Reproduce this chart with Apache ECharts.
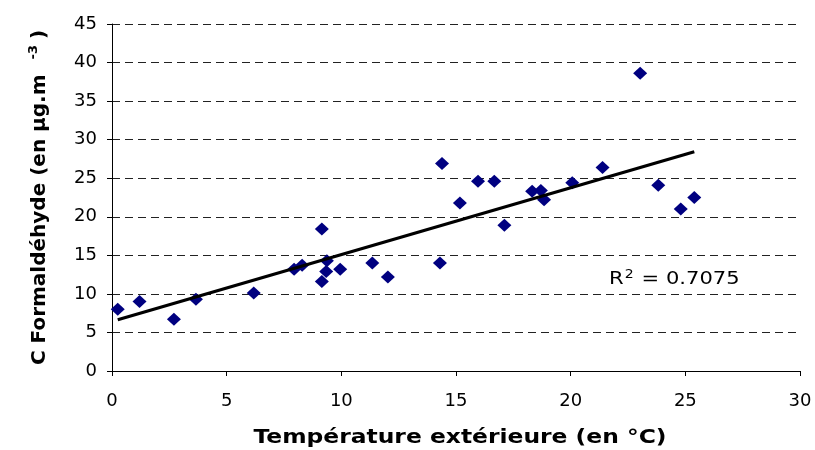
<!DOCTYPE html>
<html>
<head>
<meta charset="utf-8">
<script src="https://cdn.jsdelivr.net/npm/echarts@6/dist/echarts.min.js"></script>
<style>html,body{margin:0;padding:0;background:#fff}#c{width:815px;height:450px}</style>
</head>
<body>
<div id="c"></div>
<script>
var temperature = [0.25, 1.2, 2.7, 3.66, 6.18, 7.94, 8.29, 9.15, 9.37, 9.34, 9.15, 9.95, 11.35, 12.03, 14.3, 14.39, 15.17, 15.96, 16.67, 17.11, 18.32, 18.7, 18.84, 20.07, 21.39, 23.03, 23.82, 24.8, 25.39];
var formaldehyde = [8.0, 9.0, 6.7, 9.3, 10.1, 13.2, 13.7, 18.4, 14.3, 12.9, 11.6, 13.2, 14.0, 12.2, 14.0, 26.9, 21.8, 24.6, 24.6, 18.9, 23.3, 23.4, 22.2, 24.4, 26.4, 38.6, 24.1, 21.0, 22.5];
var xTicks = [0, 5, 10, 15, 20, 25, 30];
var yTicks = [0, 5, 10, 15, 20, 25, 30, 35, 40, 45];
var xTitle = 'Température extérieure (en °C)';
var r2Text = '0.7075';

var points = temperature.map(function (t, i) { return [t, formaldehyde[i]]; });

// least-squares trend line
var n = points.length, sx = 0, sy = 0, sxx = 0, sxy = 0;
points.forEach(function (p) { sx += p[0]; sy += p[1]; sxx += p[0] * p[0]; sxy += p[0] * p[1]; });
var slope = (n * sxy - sx * sy) / (n * sxx - sx * sx);
var intercept = (sy - slope * sx) / n;
var xMin = Math.min.apply(null, temperature), xMax = Math.max.apply(null, temperature);
var trend = [[xMin, intercept + slope * xMin], [xMax, intercept + slope * xMax]];

var font = 'DejaVu Sans';
var chart = echarts.init(document.getElementById('c'), null, { renderer: 'canvas' });
chart.setOption({
  animation: false,
  backgroundColor: '#fff',
  grid: { left: 112, right: 15, top: 24, bottom: 79, containLabel: false },
  xAxis: {
    type: 'value', min: xTicks[0], max: xTicks[xTicks.length - 1], interval: 5,
    axisLine: { lineStyle: { color: '#000', width: 1 } },
    axisTick: { show: true, inside: false, length: 5, lineStyle: { color: '#000' } },
    axisLabel: { fontFamily: font, fontSize: 18, color: '#000', margin: 21 },
    splitLine: { show: false }
  },
  yAxis: {
    type: 'value', min: yTicks[0], max: yTicks[yTicks.length - 1], interval: 5,
    name: '{t|C Formaldéhyde (en µg.m }{s|-3}{t|)}', nameLocation: 'middle', nameGap: 60, nameRotate: 90,
    nameTextStyle: {
      rich: {
        t: { fontFamily: font, fontWeight: 'bold', fontSize: 20, color: '#000' },
        s: { fontFamily: font, fontWeight: 'bold', fontSize: 13, color: '#000', verticalAlign: 'top', padding: [0, 6, 12, 8] }
      }
    },
    axisLine: { show: true, lineStyle: { color: '#000', width: 1 } },
    axisTick: { show: true, inside: false, length: 5, lineStyle: { color: '#000' } },
    axisLabel: { fontFamily: font, fontSize: 18, color: '#000', margin: 15 },
    splitLine: { show: true, lineStyle: { color: '#222', width: 1, type: [8, 5] } }
  },
  series: [
    {
      type: 'scatter', data: points, symbol: 'diamond', symbolSize: [14, 13],
      itemStyle: { color: '#000080', opacity: 1 }, z: 3
    },
    {
      type: 'line', data: trend, symbol: 'none', lineStyle: { color: '#000', width: 3.2 }, z: 4
    }
  ],
  graphic: [
    {
      type: 'text', x: 460, y: 438, scaleX: 1.17, scaleY: 1,
      style: {
        text: xTitle, x: 0, y: 0, align: 'center', verticalAlign: 'middle',
        font: 'bold 20px "DejaVu Sans"', fill: '#000'
      }
    },
    {
      type: 'text', x: 609, y: 279, scaleX: 1.17, scaleY: 1,
      style: {
        text: '{a|R}{s|2}{a| = ' + r2Text + '}', x: 0, y: 0, align: 'left', verticalAlign: 'middle',
        rich: {
          a: { fontFamily: font, fontSize: 18, fill: '#000' },
          s: { fontFamily: font, fontSize: 12, fill: '#000', verticalAlign: 'top', padding: [0, 1, 9, 1] }
        }
      }
    }
  ]
});
</script>
</body>
</html>
